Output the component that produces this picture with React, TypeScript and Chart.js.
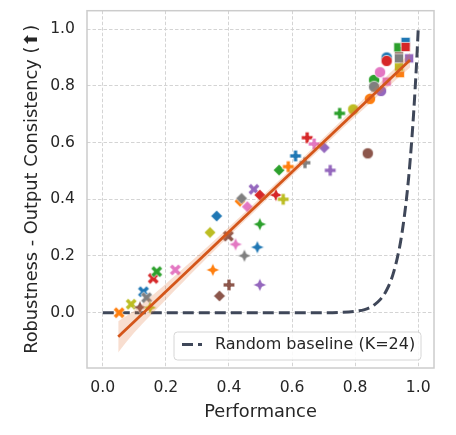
import React, { useEffect, useRef } from "react";
import { Chart, registerables } from "chart.js";

Chart.register(...registerables);

const FONT = "'DejaVu Sans', sans-serif";
const TEXT = "#262626";

const C: Record<string, string> = {
  blue: "#1f77b4",
  orange: "#ff7f0e",
  green: "#2ca02c",
  red: "#d62728",
  purple: "#9467bd",
  brown: "#8c564b",
  pink: "#e377c2",
  gray: "#7f7f7f",
  olive: "#bcbd22",
};

const xTicks = [0, 0.2, 0.4, 0.6, 0.8, 1.0];
const yTicks = [0, 0.2, 0.4, 0.6, 0.8, 1.0];

// thick X markers
const crossPerf = [0.052, 0.09, 0.129, 0.139, 0.16, 0.171, 0.23, 0.398, 0.479];
const crossRob = [0.0, 0.03, 0.074, 0.053, 0.121, 0.145, 0.151, 0.27, 0.435];
const crossColor = ["orange", "olive", "blue", "gray", "red", "green", "pink", "brown", "purple"];

// four-pointed star markers
const starPerf = [0.118, 0.15, 0.349, 0.421, 0.449, 0.49, 0.498, 0.498, 0.549];
const starRob = [0.019, 0.018, 0.151, 0.241, 0.201, 0.231, 0.312, 0.098, 0.415];
const starColor = ["brown", "olive", "orange", "pink", "gray", "blue", "green", "purple", "red"];

// diamond markers
const diamondPerf = [0.34, 0.361, 0.37, 0.435, 0.44, 0.458, 0.498, 0.559, 0.702];
const diamondRob = [0.283, 0.341, 0.059, 0.393, 0.403, 0.374, 0.415, 0.503, 0.582];
const diamondColor = ["olive", "blue", "brown", "orange", "gray", "pink", "red", "green", "purple"];

// thick plus markers
const plusPerf = [0.4, 0.572, 0.588, 0.611, 0.641, 0.648, 0.67, 0.721, 0.751];
const plusRob = [0.098, 0.4, 0.515, 0.553, 0.529, 0.617, 0.595, 0.502, 0.703];
const plusColor = ["brown", "olive", "orange", "blue", "gray", "red", "pink", "purple", "green"];

// circle markers
const circlePerf = [0.84, 0.794, 0.847, 0.882, 0.86, 0.86, 0.879, 0.9, 0.9];
const circleRob = [0.562, 0.717, 0.754, 0.782, 0.821, 0.797, 0.848, 0.9, 0.888];
const circleColor = ["brown", "olive", "orange", "purple", "green", "gray", "pink", "blue", "red"];

// square markers
const squarePerf = [0.9, 0.942, 0.939, 0.939, 0.939, 0.971, 0.937, 0.96, 0.96];
const squareRob = [0.815, 0.845, 0.868, 0.911, 0.897, 0.897, 0.936, 0.955, 0.937];
const squareColor = ["pink", "orange", "olive", "brown", "gray", "purple", "green", "blue", "red"];

// regression fit and its confidence band
const fitX = [0.049, 0.974];
const fitY = [-0.085, 0.891];
const bandX = [0.049, 0.1, 0.2, 0.35, 0.55, 0.75, 0.9, 0.974];
const bandLo = [-0.14, -0.07, 0.046, 0.215, 0.43, 0.639, 0.792, 0.865];
const bandHi = [-0.03, 0.008, 0.102, 0.251, 0.458, 0.671, 0.834, 0.917];

// random baseline curve (K=24)
const baseX = [0, 0.5, 0.7, 0.75, 0.8, 0.83, 0.85, 0.86, 0.88, 0.9, 0.92, 0.94, 0.95, 0.96, 0.97, 0.98, 0.985, 0.99, 0.995, 1.0];
const baseY = [0, 0, 0, 0.001, 0.005, 0.011, 0.02, 0.027, 0.047, 0.08, 0.135, 0.226, 0.292, 0.375, 0.481, 0.616, 0.696, 0.786, 0.886, 1.0];

const legendLabel = "Random baseline (K=24)";

function makeMarker(shape: string, color: string): HTMLCanvasElement {
  const S = 18;
  const c = document.createElement("canvas");
  c.width = S;
  c.height = S;
  const g = c.getContext("2d")!;
  g.translate(S / 2, S / 2);
  g.beginPath();
  let lw = 0.7;
  if (shape === "circle") {
    g.arc(0, 0, 5.6, 0, Math.PI * 2);
  } else if (shape === "square") {
    g.rect(-4.6, -4.6, 9.2, 9.2);
  } else if (shape === "diamond") {
    g.moveTo(0, -5.8);
    g.lineTo(5.8, 0);
    g.lineTo(0, 5.8);
    g.lineTo(-5.8, 0);
    g.closePath();
  } else if (shape === "plus" || shape === "cross") {
    const a = shape === "plus" ? 5.8 : 6.2;
    const t = 2.0;
    const pts = [
      [-t, -a], [t, -a], [t, -t], [a, -t], [a, t], [t, t],
      [t, a], [-t, a], [-t, t], [-a, t], [-a, -t], [-t, -t],
    ];
    const ang = shape === "cross" ? Math.PI / 4 : 0;
    const ca = Math.cos(ang), sa = Math.sin(ang);
    pts.forEach(([px, py], i) => {
      const rx = px * ca - py * sa;
      const ry = px * sa + py * ca;
      if (i === 0) g.moveTo(rx, ry);
      else g.lineTo(rx, ry);
    });
    g.closePath();
  } else if (shape === "star4") {
    const R = 6.6, r = 2.9;
    lw = 0.4;
    for (let i = 0; i < 8; i++) {
      const ang = -Math.PI / 2 + (i * Math.PI) / 4;
      const rad = i % 2 === 0 ? R : r;
      const px = rad * Math.cos(ang), py = rad * Math.sin(ang);
      if (i === 0) g.moveTo(px, py);
      else g.lineTo(px, py);
    }
    g.closePath();
  }
  g.fillStyle = color;
  g.fill();
  g.strokeStyle = "#ffffff";
  g.lineWidth = lw;
  g.stroke();
  return c;
}

const framePlugin = {
  id: "frameAndLegend",
  beforeDatasetsDraw(chart: any) {
    const { ctx, chartArea } = chart;
    const { left, top, right, bottom } = chartArea;
    ctx.save();
    ctx.strokeStyle = "#cccccc";
    ctx.lineWidth = 1.5;
    ctx.strokeRect(left, top, right - left, bottom - top);
    ctx.restore();
  },
  afterDraw(chart: any) {
    const { ctx, chartArea } = chart;
    const bx = chartArea.left + 87;
    const bw = chartArea.right - 13 - bx;
    const by = chartArea.bottom - 36;
    const bh = 28;
    ctx.save();
    ctx.beginPath();
    const r = 3.5;
    ctx.moveTo(bx + r, by);
    ctx.lineTo(bx + bw - r, by);
    ctx.arcTo(bx + bw, by, bx + bw, by + r, r);
    ctx.lineTo(bx + bw, by + bh - r);
    ctx.arcTo(bx + bw, by + bh, bx + bw - r, by + bh, r);
    ctx.lineTo(bx + r, by + bh);
    ctx.arcTo(bx, by + bh, bx, by + bh - r, r);
    ctx.lineTo(bx, by + r);
    ctx.arcTo(bx, by, bx + r, by, r);
    ctx.closePath();
    ctx.fillStyle = "rgba(255,255,255,0.85)";
    ctx.fill();
    ctx.strokeStyle = "#d6d6d6";
    ctx.lineWidth = 1;
    ctx.stroke();
    const ly = by + 12.5;
    ctx.beginPath();
    ctx.setLineDash([11, 5]);
    ctx.strokeStyle = "#3f4759";
    ctx.lineWidth = 3;
    ctx.moveTo(bx + 8, ly);
    ctx.lineTo(bx + 28, ly);
    ctx.stroke();
    ctx.setLineDash([]);
    ctx.fillStyle = TEXT;
    ctx.font = `16px ${FONT}`;
    ctx.textBaseline = "middle";
    ctx.textAlign = "left";
    ctx.fillText(legendLabel, bx + 41, ly);
    ctx.restore();
  },
};

function pts(xs: number[], ys: number[]) {
  return xs.map((x, i) => ({ x, y: ys[i] }));
}

export default function App() {
  const ref = useRef<HTMLCanvasElement | null>(null);

  useEffect(() => {
    document.body.style.margin = "0";
    const canvas = ref.current;
    if (!canvas) return;

    const markerSet = (shape: string, xs: number[], ys: number[], cols: string[], order: number) => {
      const styles = cols.map((c) => makeMarker(shape, C[c]));
      return {
        type: "scatter" as const,
        data: pts(xs, ys),
        pointStyle: (ctx: any) => styles[ctx.dataIndex],
        pointRadius: 6,
        pointHoverRadius: 6,
        backgroundColor: cols.map((c) => C[c]),
        borderColor: "#ffffff",
        order,
      };
    };

    const chart = new Chart(canvas, {
      type: "scatter",
      data: {
        datasets: [
          {
            type: "line",
            data: pts(fitX, fitY),
            borderColor: "#d4561a",
            borderWidth: 2.8,
            pointRadius: 0,
            fill: false,
            order: 0,
          } as any,
          {
            type: "line",
            data: pts(bandX, bandHi),
            borderWidth: 0,
            borderColor: "rgba(0,0,0,0)",
            backgroundColor: "rgba(226,115,60,0.24)",
            pointRadius: 0,
            tension: 0.3,
            fill: "+1",
            order: 1,
          } as any,
          {
            type: "line",
            data: pts(bandX, bandLo),
            borderWidth: 0,
            borderColor: "rgba(0,0,0,0)",
            pointRadius: 0,
            tension: 0.3,
            fill: false,
            order: 1,
          } as any,
          markerSet("square", squarePerf, squareRob, squareColor, 2),
          markerSet("circle", circlePerf, circleRob, circleColor, 3),
          markerSet("plus", plusPerf, plusRob, plusColor, 4),
          markerSet("diamond", diamondPerf, diamondRob, diamondColor, 5),
          markerSet("star4", starPerf, starRob, starColor, 6),
          markerSet("cross", crossPerf, crossRob, crossColor, 7),
          {
            type: "line",
            data: pts(baseX, baseY),
            borderColor: "#3f4759",
            borderWidth: 3,
            borderDash: [11, 5],
            pointRadius: 0,
            cubicInterpolationMode: "monotone",
            fill: false,
            order: 10,
          } as any,
        ],
      },
      options: {
        responsive: false,
        animation: false,
        devicePixelRatio: 1,
        layout: { padding: { top: 10.7, right: 22, left: 0, bottom: 0 } },
        plugins: {
          legend: { display: false },
          tooltip: { enabled: false },
        },
        scales: {
          x: {
            type: "linear",
            min: -0.05,
            max: 1.05,
            afterFit: (s: any) => {
              s.height = 67;
              s.paddingLeft = 0;
              s.paddingRight = 0;
            },
            afterBuildTicks: (s: any) => {
              s.ticks = xTicks.map((v) => ({ value: v }));
            },
            ticks: {
              color: TEXT,
              font: { family: FONT, size: 15.6 },
              padding: 11,
              callback: (v: any) => Number(v).toFixed(1),
            },
            grid: { color: "#d4d4d4", lineWidth: 1, drawTicks: false },
            border: { display: false, dash: [3.5, 2] },
            title: {
              display: true,
              text: "Performance",
              color: TEXT,
              font: { family: FONT, size: 17.8 },
              padding: { top: 0, bottom: 12.3 },
            },
          },
          y: {
            type: "linear",
            min: -0.195,
            max: 1.065,
            afterFit: (s: any) => {
              s.width = 87;
              s.paddingTop = 0;
              s.paddingBottom = 0;
            },
            afterBuildTicks: (s: any) => {
              s.ticks = yTicks.map((v) => ({ value: v }));
            },
            ticks: {
              color: TEXT,
              font: { family: FONT, size: 15.6 },
              padding: 12,
              callback: (v: any) => Number(v).toFixed(1),
            },
            grid: { color: "#d4d4d4", lineWidth: 1, drawTicks: false },
            border: { display: false, dash: [3.5, 2] },
            title: {
              display: true,
              text: "Robustness - Output Consistency (⬆)",
              color: TEXT,
              font: { family: FONT, size: 17.8 },
              padding: { top: 21.8, bottom: 0 },
            },
          },
        },
      } as any,
      plugins: [framePlugin],
    });

    return () => {
      chart.destroy();
    };
  }, []);

  return (
    <div style={{ width: 456, height: 435 }}>
      <canvas ref={ref} width={456} height={435} style={{ display: "block" }} />
    </div>
  );
}
